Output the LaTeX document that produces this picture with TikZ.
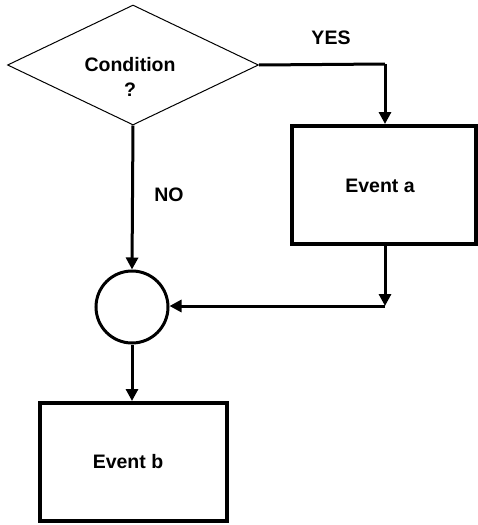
\documentclass[tikz,border=0pt]{standalone}
\usepackage{fontspec}
\setmainfont{Liberation Sans}
\usetikzlibrary{shapes.geometric,arrows.meta}
\tikzset{
  lbl/.style={font=\fontsize{19.5}{25}\selectfont\bfseries, align=center, inner sep=0pt},
  evbox/.style={draw, line width=4pt, rectangle, inner sep=0pt},
  conn/.style={line width=3pt, -{Triangle[length=12pt,width=12pt]}},
  plain/.style={line width=3pt},
}
\begin{document}
\begin{tikzpicture}[x=1pt,y=-1pt]
\useasboundingbox (0,0) rectangle (478,525);
\node[draw, diamond, line width=1pt, minimum width=251pt, minimum height=120pt, inner sep=0pt, shape aspect=2.1] (cond) at (133,65) {};
\node[lbl] (condtxt) at (130,77) {Condition\\?};
\node[evbox, minimum width=184pt, minimum height=118pt] (ea) at (384,185) {};
\node[lbl] (eatxt) at (380,186) {Event a};
\node[evbox, minimum width=187pt, minimum height=118pt] (eb) at (133.5,462) {};
\node[lbl] (ebtxt) at (128,462) {Event b};
\node[draw, circle, line width=3pt, minimum size=72pt, inner sep=0pt] (merge) at (132,307) {};
\node[lbl] (yes) at (331,38) {YES};
\node[lbl] (no) at (169,195) {NO};
\coordinate (c1) at (385,64);
\coordinate (c2) at (385,306);
\draw[plain] (cond.east) -- (c1);
\draw[conn] (c1) -- (ea.north -| c1);
\draw[conn] (cond.south) -- (merge.north);
\draw[conn] (ea.south -| c2) -- (c2);
\draw[conn] (c2) -- (merge.east |- c2);
\draw[conn] (merge.south) -- (eb.north -| merge.south);
\end{tikzpicture}
\end{document}
